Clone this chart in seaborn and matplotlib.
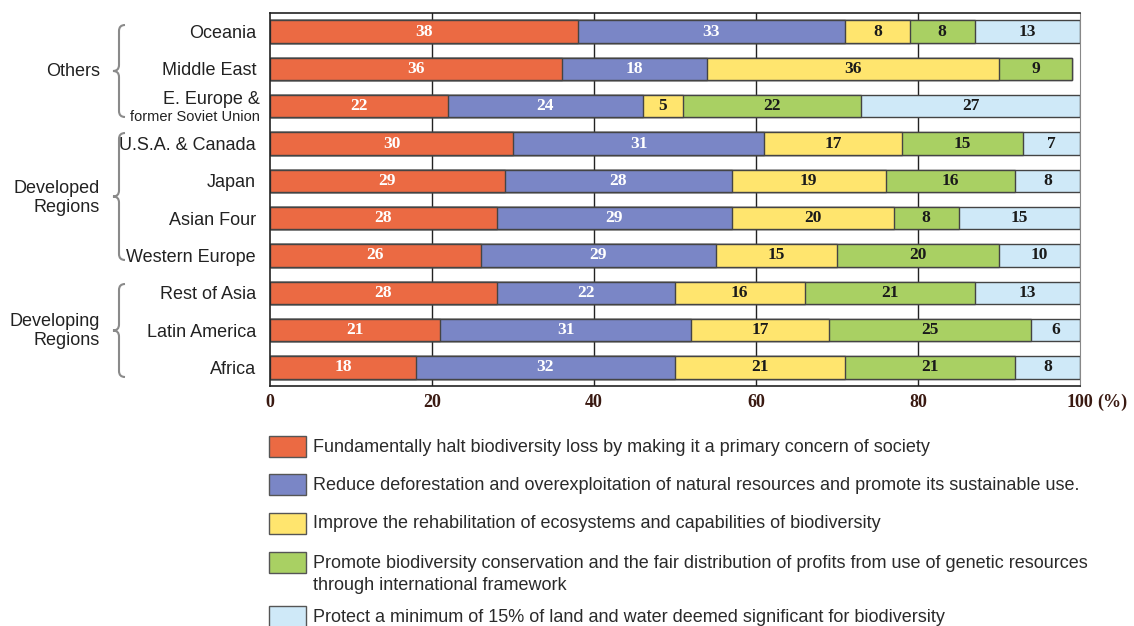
import numpy as np
import pandas as pd
import matplotlib
matplotlib.use("Agg")
import matplotlib.pyplot as plt
import matplotlib.transforms as mtransforms
from matplotlib.patches import PathPatch, Rectangle
from matplotlib.path import Path
import seaborn as sns

# Survey: preferred biodiversity measures by region (%)
regions = ["Oceania", "Middle East", "E. Europe &", "U.S.A. & Canada", "Japan",
           "Asian Four", "Western Europe", "Rest of Asia", "Latin America", "Africa"]
region_subtitle = {"E. Europe &": "former Soviet Union"}
halt_loss = [38, 36, 22, 30, 29, 28, 26, 28, 21, 18]
reduce_deforestation = [33, 18, 24, 31, 28, 29, 29, 22, 31, 32]
rehabilitation = [8, 36, 5, 17, 19, 20, 15, 16, 17, 21]
conservation_framework = [8, 9, 22, 15, 16, 8, 20, 21, 25, 21]
protect_15pct = [13, 0, 27, 7, 8, 15, 10, 13, 6, 8]

measures = [
    "Fundamentally halt biodiversity loss by making it a primary concern of society",
    "Reduce deforestation and overexploitation of natural resources and promote its sustainable use.",
    "Improve the rehabilitation of ecosystems and capabilities of biodiversity",
    "Promote biodiversity conservation and the fair distribution of profits from use of genetic resources\nthrough international framework",
    "Protect a minimum of 15% of land and water deemed significant for biodiversity",
]
groups = ["Others", "Developed\nRegions", "Developing\nRegions"]
x_ticks = [0, 20, 40, 60, 80, 100]
x_unit = "(%)"

colors = ["#EB6A43", "#7A86C6", "#FFE56E", "#A9D063", "#CFE9F8"]
label_colors = ["white", "white", "#1a1a1a", "#1a1a1a", "#1a1a1a"]

series = [halt_loss, reduce_deforestation, rehabilitation,
          conservation_framework, protect_15pct]
values = np.array(series, dtype=float)
cum = np.cumsum(values, axis=0)

W, H = 1134, 626
sns.set_style("white")
fig = plt.figure(figsize=(W / 100, H / 100), dpi=100)
ax = fig.add_axes([270 / W, 1 - 386 / H, 810 / W, 373 / H])

# vertical grid behind the bars
for xv in x_ticks[1:-1]:
    ax.axvline(xv, color="#222222", lw=1.0, zorder=0)

# stacked bars: draw cumulative totals from the outermost layer inwards
for k in range(len(series) - 1, -1, -1):
    df = pd.DataFrame({"region": regions, "total": cum[k]})
    sns.barplot(data=df, x="total", y="region", orient="h", color=colors[k],
                saturation=1, width=0.6, edgecolor="#444444", linewidth=1.0,
                ax=ax, zorder=2)

# value labels centred in each segment
for k in range(len(series)):
    for i in range(len(regions)):
        v = values[k, i]
        if v <= 0:
            continue
        ax.text(cum[k, i] - v / 2, i, f"{int(v)}", ha="center", va="center",
                fontsize=12.5, fontweight="bold", family="Liberation Serif",
                color=label_colors[k], zorder=5)

ax.set_xlim(0, 100)
ax.set_ylim(len(regions) - 0.5, -0.5)
ax.set_xlabel("")
ax.set_ylabel("")
ax.set_xticks(x_ticks)
ax.set_xticklabels([str(t) for t in x_ticks], family="Liberation Serif",
                   fontsize=13, fontweight="bold", color="#3a1a12")
ax.tick_params(axis="x", direction="in", length=8, width=1, color="#5a2a20", pad=6)
ax.tick_params(axis="y", length=0, pad=10)
ax.set_yticks(range(len(regions)))
ax.set_yticklabels([r if r not in region_subtitle else "" for r in regions],
                   family="Liberation Sans", fontsize=13, color="#222222")
for side in ["top", "left", "bottom"]:
    ax.spines[side].set_color("#222222")
    ax.spines[side].set_linewidth(1.2)
ax.spines["right"].set_color("#888888")

# two-line region labels: main name above, smaller subtitle below
label_tf = mtransforms.blended_transform_factory(ax.transAxes, ax.transData)
for i, name in enumerate(regions):
    if name in region_subtitle:
        ax.text(0, i, name, ha="right", va="center", fontsize=13,
                family="Liberation Sans", color="#222222", clip_on=False,
                transform=label_tf + mtransforms.ScaledTranslation(
                    -0.10, 0.07, fig.dpi_scale_trans))
        ax.text(0, i, region_subtitle[name], ha="right", va="center",
                fontsize=10.5, family="Liberation Sans", color="#222222",
                clip_on=False,
                transform=label_tf + mtransforms.ScaledTranslation(
                    -0.10, -0.11, fig.dpi_scale_trans))

# unit next to the last x tick label
fig.canvas.draw()
ax.annotate(x_unit, xy=(1, 0.5), xycoords=ax.get_xticklabels()[-1],
            xytext=(3, 0), textcoords="offset points", ha="left", va="center",
            fontsize=13, family="Liberation Serif", fontweight="bold",
            color="#3a1a12")


def brace(x, top, bottom):
    """Left-pointing curly brace in pixel coordinates."""
    w = 6
    mid = (top + bottom) / 2
    r = 6
    pts = [(x + w, top), (x, top), (x, top + r),
           (x, mid - r), (x, mid), (x - w, mid),
           (x, mid), (x, mid + r),
           (x, bottom - r), (x, bottom), (x + w, bottom)]
    codes = [Path.MOVETO, Path.CURVE3, Path.CURVE3,
             Path.LINETO, Path.CURVE3, Path.CURVE3,
             Path.CURVE3, Path.CURVE3,
             Path.LINETO, Path.CURVE3, Path.CURVE3]
    verts = [(px / W, 1 - py / H) for px, py in pts]
    fig.patches.append(PathPatch(Path(verts, codes), transform=fig.transFigure,
                                 fill=False, edgecolor="#8a8a8a", lw=1.5))


brace(119, 25, 117)
brace(119, 133, 260)
brace(119, 284, 377)

for name, yc in zip(groups, [71, 198, 331]):
    fig.text(100 / W, 1 - yc / H, name, ha="right", va="center", fontsize=13,
             family="Liberation Sans", color="#222222", linespacing=1.15)

# key: colour swatch and description for each measure
swatch_tops = [436, 474, 513, 552, 606]
for c, label, top in zip(colors, measures, swatch_tops):
    fig.add_artist(Rectangle((269 / W, 1 - (top + 21) / H), 37 / W, 21 / H,
                             transform=fig.transFigure, facecolor=c,
                             edgecolor="#555555", lw=1.0))
    for j, line in enumerate(label.split("\n")):
        fig.text(313 / W, 1 - (top + 11 + 22 * j) / H, line, ha="left",
                 va="center", fontsize=13, family="Liberation Sans",
                 color="#2a2a2a")

fig.savefig("out.png", dpi=100)
